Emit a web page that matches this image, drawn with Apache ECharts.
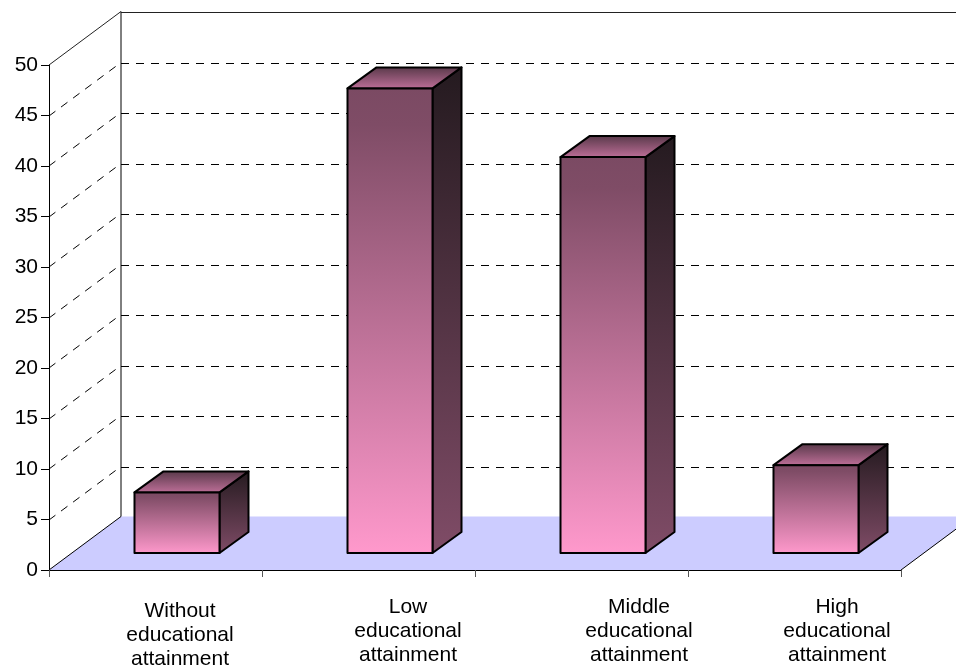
<!DOCTYPE html>
<html>
<head>
<meta charset="utf-8">
<style>html,body{margin:0;padding:0;background:#fff}#c{width:956px;height:668px}</style>
<script src="https://cdn.jsdelivr.net/npm/echarts@6/dist/echarts.min.js"></script>
</head>
<body>
<div id="c"></div>
<script>
var categories = ['Without\neducational\nattainment', 'Low\neducational\nattainment', 'Middle\neducational\nattainment', 'High\neducational\nattainment'];
var values = [6.0, 46.0, 39.2, 8.7];
var gridTicks = [5, 10, 15, 20, 25, 30, 35, 40, 45, 50];
var yMax = 50, yStep = 5;

// layout of the pseudo-3D box (pixels)
var wallDx = 72, wallDy = 53.5;      // floor depth
var barShiftX = 21.5, barShiftY = 17; // bar front plane relative to the axis plane
var barDepthX = 29, barDepthY = 21;
var barWidth = 85;
var labelDx = [24.5, 39.5, 57.5, 42.5];
var labelDy = [65, 61, 61, 61];

function vGrad(a, b, stops) {
  return { type: 'linear', x: 0, y: 0, x2: 0, y2: 1, colorStops: stops || [{ offset: 0, color: a }, { offset: 1, color: b }] };
}
var frontFill = vGrad(0, 0, [{ offset: 0, color: '#7b4a63' }, { offset: 0.08, color: '#7f4c66' }, { offset: 1, color: '#ff99cc' }]);
var sideFill = vGrad('#241a1f', '#804c67');
var topFill = vGrad('#573848', '#c0709a');

var option = {
  animation: false,
  backgroundColor: '#fff',
  grid: { left: 49, top: 65, width: 852, height: 505, containLabel: false },
  xAxis: {
    type: 'category', data: categories, boundaryGap: true,
    axisLine: { lineStyle: { color: '#000', width: 1 } },
    axisTick: { show: true, alignWithLabel: false, length: 7, lineStyle: { color: '#555' } },
    axisLabel: { show: false }, splitLine: { show: false }
  },
  yAxis: {
    type: 'value', min: 0, max: yMax, interval: yStep,
    axisLine: { show: true, lineStyle: { color: '#000', width: 1 } },
    axisTick: { show: true, length: 8, lineStyle: { color: '#000' } },
    axisLabel: { color: '#000', fontFamily: 'Liberation Sans', fontSize: 21, margin: 11 },
    splitLine: { show: false }
  },
  series: [
    { // floor and back corner
      type: 'custom', coordinateSystem: 'cartesian2d', data: [[0, 0]], z: 1, silent: true, clip: false,
      renderItem: function (params, api) {
        var cs = params.coordSys;
        var o = api.coord([0, 0]);
        var l = cs.x, r = cs.x + cs.width, y0 = o[1];
        var top = api.coord([0, yMax])[1];
        var lw = { stroke: '#000', lineWidth: 1 };
        return { type: 'group', children: [
          { type: 'polygon', shape: { points: [[l, y0], [r, y0], [r + wallDx, y0 - wallDy], [l + wallDx, y0 - wallDy]] }, style: { fill: '#ccccff', stroke: null } },
          { type: 'line', shape: { x1: l, y1: y0, x2: l + wallDx, y2: y0 - wallDy }, style: lw },
          { type: 'line', shape: { x1: r, y1: y0, x2: r + wallDx, y2: y0 - wallDy }, style: lw },
          { type: 'line', shape: { x1: l + wallDx, y1: y0 - wallDy, x2: l + wallDx, y2: top - wallDy }, style: lw }
        ] };
      }
    },
    { // wall gridlines
      type: 'custom', coordinateSystem: 'cartesian2d', z: 2, silent: true, clip: false,
      data: gridTicks.map(function (t) { return [0, t]; }),
      renderItem: function (params, api) {
        var cs = params.coordSys, v = api.value(1);
        var y = Math.round(api.coord([0, v])[1]);
        var l = cs.x, r = cs.x + cs.width;
        var last = v === yMax;
        var dash = { stroke: '#000', lineWidth: 1, lineDash: [8, 7] };
        var solid = { stroke: '#222', lineWidth: 1 };
        var by = Math.round(y - wallDy) + 0.5;
        return { type: 'group', children: [
          { type: 'line', shape: { x1: l, y1: y, x2: l + wallDx, y2: y - wallDy }, style: last ? solid : dash },
          { type: 'line', shape: { x1: l + wallDx, y1: by, x2: r + wallDx, y2: by }, style: last ? solid : dash }
        ] };
      }
    },
    { // bars
      type: 'custom', coordinateSystem: 'cartesian2d', z: 3, clip: false,
      data: values.map(function (v, i) { return [i, v]; }),
      encode: { x: 0, y: 1 },
      renderItem: function (params, api) {
        var i = api.value(0), v = api.value(1);
        var c = api.coord([i, v]), b = api.coord([i, 0]);
        var x0 = c[0] + barShiftX - barWidth / 2, x1 = x0 + barWidth;
        var yt = c[1] - barShiftY, yb = b[1] - barShiftY;
        var dx = barDepthX, dy = barDepthY;
        function st(fill) { return { fill: fill, stroke: '#000', lineWidth: 2, lineJoin: 'round' }; }
        return { type: 'group', children: [
          { type: 'polygon', shape: { points: [[x1, yt], [x1 + dx, yt - dy], [x1 + dx, yb - dy], [x1, yb]] }, style: st(sideFill) },
          { type: 'polygon', shape: { points: [[x0, yt], [x0 + dx, yt - dy], [x1 + dx, yt - dy], [x1, yt]] }, style: st(topFill) },
          { type: 'polygon', shape: { points: [[x0, yt], [x1, yt], [x1, yb], [x0, yb]] }, style: st(frontFill) }
        ] };
      }
    },
    { // category labels, each placed on its own offset
      type: 'custom', coordinateSystem: 'cartesian2d', z: 4, silent: true, clip: false,
      data: categories.map(function (c, i) { return [i, 0]; }),
      renderItem: function (params, api) {
        var i = api.value(0);
        var p = api.coord([i, 0]);
        return { type: 'text', x: p[0] + labelDx[i], y: p[1] + labelDy[i],
          style: { text: categories[i], fill: '#000', font: '21px "Liberation Sans"', align: 'center', verticalAlign: 'middle', lineHeight: 24 } };
      }
    }
  ]
};
var chart = echarts.init(document.getElementById('c'), null, { renderer: 'canvas', width: 956, height: 668 });
chart.setOption(option);
</script>
</body>
</html>
